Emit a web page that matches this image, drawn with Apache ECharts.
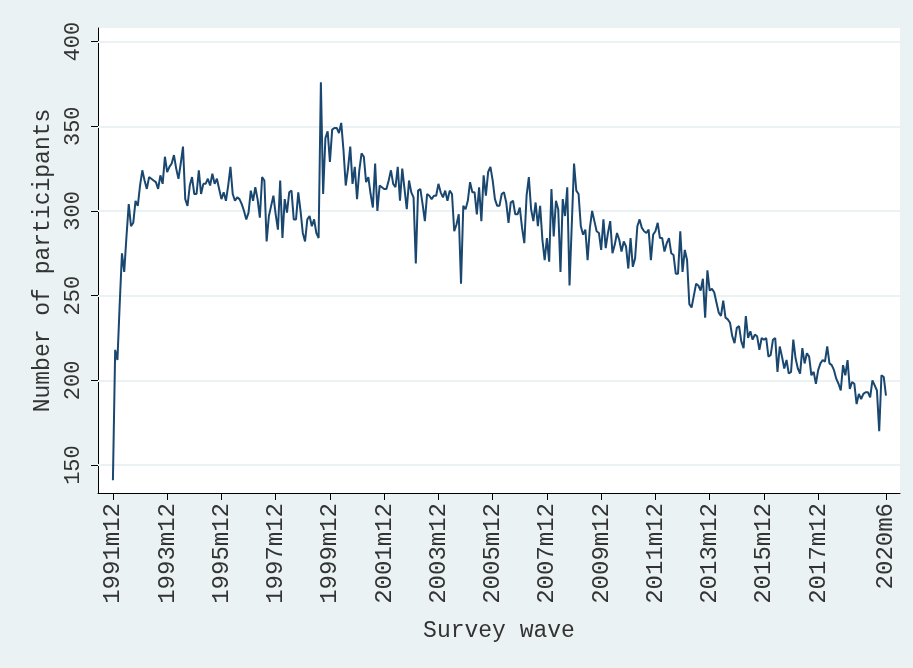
<!DOCTYPE html>
<html>
<head>
<meta charset="utf-8">
<script src="https://cdn.jsdelivr.net/npm/echarts@6/dist/echarts.min.js"></script>
<style>
  html, body { margin: 0; padding: 0; background: #ffffff; }
  #chart { width: 913px; height: 668px; }
</style>
</head>
<body>
<div id="chart"></div>
<script>
// Monthly number of participants per survey wave, starting 1991m12.
const startYear = 1991;
const startMonth = 12;

const participants1991to1996 = [
  141, 218, 212, 245, 275, 264, 285, 304, 291, 293,
  306, 303, 315, 324, 318, 313, 320, 319, 318, 317,
  313, 321, 316, 332, 323, 326, 328, 333, 325, 319,
  328, 338, 307, 303, 315, 320, 310, 310, 324, 310,
  316, 316, 319, 315, 322, 316, 319, 313, 307, 311,
  306, 315, 326, 310, 306, 308, 307, 304, 300, 295
];
const participants1996to2001 = [
  299, 312, 306, 314, 307, 296, 320, 318, 282, 297,
  303, 309, 298, 289, 318, 284, 307, 299, 311, 312,
  295, 295, 311, 300, 287, 282, 295, 297, 291, 295,
  287, 284, 376, 310, 343, 347, 329, 348, 349, 349,
  346, 352, 336, 315, 325, 338, 316, 326, 307, 324,
  334, 332, 317, 320, 310, 302, 328, 300, 315, 314
];
const participants2001to2006 = [
  313, 313, 318, 324, 316, 314, 326, 306, 325, 313,
  301, 318, 311, 308, 269, 312, 313, 304, 294, 310,
  309, 307, 309, 309, 316, 311, 308, 312, 306, 312,
  310, 288, 292, 298, 257, 303, 301, 306, 317, 311,
  311, 298, 314, 294, 321, 309, 323, 326, 318, 307,
  303, 303, 310, 311, 305, 293, 305, 306, 298, 298
];
const participants2006to2011 = [
  302, 290, 281, 309, 320, 301, 294, 305, 291, 303,
  283, 271, 284, 270, 313, 285, 306, 301, 264, 307,
  297, 314, 256, 292, 328, 312, 310, 291, 286, 289,
  271, 290, 300, 294, 288, 287, 277, 295, 278, 287,
  294, 275, 280, 287, 283, 276, 282, 279, 266, 284,
  267, 272, 291, 295, 290, 288, 287, 289, 271, 286
];
const participants2011to2016 = [
  288, 293, 284, 284, 276, 281, 284, 275, 274, 263,
  263, 288, 264, 277, 271, 245, 243, 250, 257, 256,
  253, 260, 237, 265, 253, 254, 252, 246, 240, 238,
  247, 237, 236, 234, 226, 222, 231, 232, 223, 219,
  238, 225, 229, 224, 227, 226, 218, 225, 224, 225,
  214, 215, 224, 225, 205, 220, 214, 207, 212, 204
];
const participants2016to2020 = [
  205, 224, 213, 207, 204, 219, 210, 216, 214, 203,
  205, 198, 206, 210, 212, 211, 220, 210, 209, 206,
  201, 198, 194, 209, 203, 212, 195, 199, 198, 186,
  192, 189, 192, 193, 193, 190, 200, 197, 194, 170,
  203, 202, 191
];

const xTickLabels = ['1991m12', '1993m12', '1995m12', '1997m12', '1999m12', '2001m12',
  '2003m12', '2005m12', '2007m12', '2009m12', '2011m12', '2013m12', '2015m12',
  '2017m12', '2020m6'];
const yTickValues = [150, 200, 250, 300, 350, 400];

const participants = [].concat(
  participants1991to1996, participants1996to2001, participants2001to2006,
  participants2006to2011, participants2011to2016, participants2016to2020
);

// Survey wave label <-> month offset from the first wave
function waveIndex(label) {
  const [y, m] = label.split('m').map(Number);
  return (y - startYear) * 12 + (m - startMonth);
}
function waveLabel(idx) {
  const total = startYear * 12 + (startMonth - 1) + idx;
  return Math.floor(total / 12) + 'm' + (total % 12 + 1);
}

const xTickIndex = xTickLabels.map(waveIndex);
const lineData = participants.map((v, i) => [i, v]);

const font = '"Liberation Mono", "DejaVu Sans Mono", monospace';
const textColor = '#333333';

const chart = echarts.init(document.getElementById('chart'), null, { renderer: 'canvas' });
chart.setOption({
  backgroundColor: '#eaf2f3',
  animation: false,
  grid: {
    left: 98, top: 28, right: 13, bottom: 175,
    show: true, backgroundColor: '#ffffff', borderWidth: 0
  },
  xAxis: {
    type: 'value',
    min: -6.6,
    max: 348.2,
    name: 'Survey wave',
    nameLocation: 'middle',
    nameGap: 126,
    nameTextStyle: { fontFamily: font, fontSize: 23, color: textColor },
    axisLine: { show: true, onZero: false, lineStyle: { color: '#000000', width: 1 } },
    axisTick: { show: true, customValues: xTickIndex, length: 7, lineStyle: { color: '#000000' } },
    axisLabel: {
      customValues: xTickIndex,
      formatter: v => waveLabel(Math.round(v)),
      rotate: 90,
      margin: 10,
      fontFamily: font,
      fontSize: 24,
      color: textColor
    },
    splitLine: { show: false }
  },
  yAxis: {
    type: 'value',
    min: 133.5,
    max: 408,
    name: 'Number of participants',
    nameLocation: 'middle',
    nameRotate: 90,
    nameGap: 36,
    nameTextStyle: { fontFamily: font, fontSize: 23, color: textColor },
    axisLine: { show: true, onZero: false, lineStyle: { color: '#000000', width: 1 } },
    axisTick: { show: true, customValues: yTickValues, length: 7, lineStyle: { color: '#000000' } },
    axisLabel: {
      customValues: yTickValues,
      rotate: 90,
      margin: 14,
      fontFamily: font,
      fontSize: 22,
      color: textColor
    },
    splitLine: { show: false }
  },
  series: [
    {
      type: 'line',
      data: lineData,
      showSymbol: false,
      silent: true,
      lineStyle: { color: '#1a476f', width: 2 },
      markLine: {
        silent: true,
        symbol: 'none',
        label: { show: false },
        lineStyle: { color: '#eaf2f3', width: 2, type: 'solid' },
        data: yTickValues.map(v => ({ yAxis: v })),
        z: 1
      },
      z: 3
    }
  ]
});
</script>
</body>
</html>
